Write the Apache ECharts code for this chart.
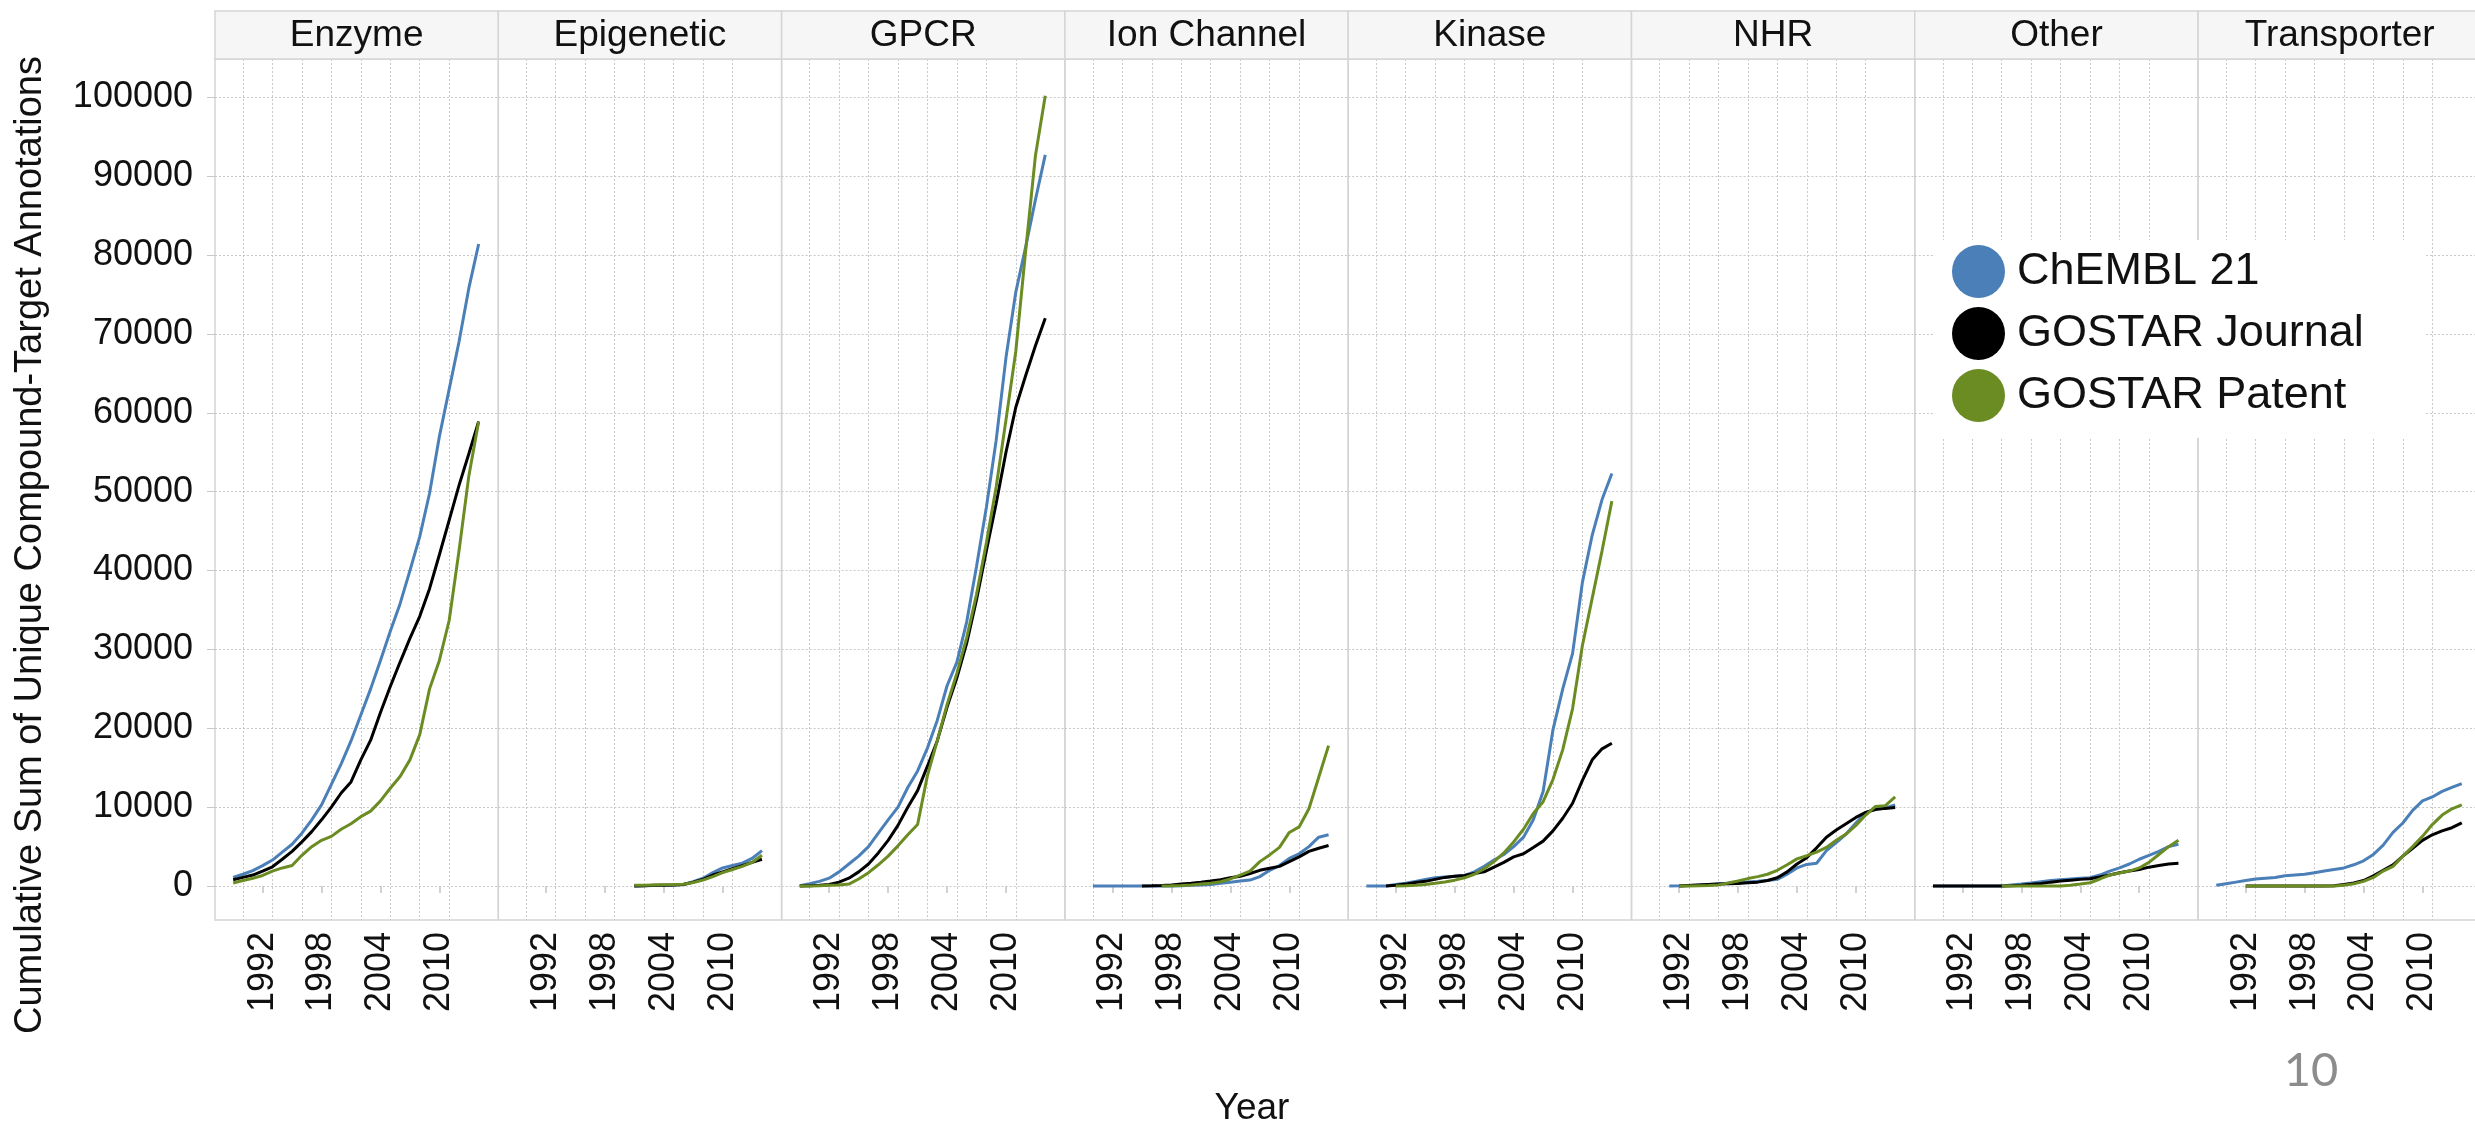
<!DOCTYPE html>
<html>
<head>
<meta charset="utf-8">
<script src="https://cdn.jsdelivr.net/npm/echarts@6.0.0/dist/echarts.min.js"></script>
<style>
  html, body { margin: 0; padding: 0; background: #fff; }
  #chart { width: 2475px; height: 1126px; }
</style>
</head>
<body>
<div id="chart"></div>
<script>
// years on the x axis, one point per year
const years = [1989, 1990, 1991, 1992, 1993, 1994, 1995, 1996, 1997, 1998, 1999, 2000, 2001,
  2002, 2003, 2004, 2005, 2006, 2007, 2008, 2009, 2010, 2011, 2012, 2013, 2014];

const panels = ['Enzyme', 'Epigenetic', 'GPCR', 'Ion Channel', 'Kinase', 'NHR', 'Other', 'Transporter'];
const sources = ['ChEMBL 21', 'GOSTAR Journal', 'GOSTAR Patent'];

const yTicks = [0, 10000, 20000, 30000, 40000, 50000, 60000, 70000, 80000, 90000, 100000];
const xTicks = [1992, 1998, 2004, 2010];
const xGridYears = [1990, 1993, 1996, 1999, 2002, 2005, 2008, 2011];

// values, 1989..2014 (null = no data yet)
const enzymeChembl = [1100, 1500, 1950, 2600, 3300, 4300, 5300, 6700, 8400, 10300, 12900, 15500, 18400, 21700, 25000, 28600, 32300, 35800, 40000, 44300, 49800, 57000, 63000, 69000, 75800, 81400];
const enzymeJournal = [800, 1100, 1400, 1900, 2450, 3400, 4400, 5600, 6900, 8400, 10000, 11800, 13200, 16000, 18500, 22000, 25300, 28400, 31400, 34200, 37700, 42000, 46400, 50800, 54800, 58900];
const enzymePatent = [400, 700, 1000, 1350, 1900, 2300, 2600, 3900, 5000, 5800, 6300, 7200, 7900, 8800, 9500, 10800, 12400, 13900, 16000, 19200, 25000, 28600, 33700, 42500, 52000, 58900];

const epigeneticChembl = [null, null, null, null, null, null, null, null, null, null, null, null, 0, 30, 80, 120, 150, 200, 550, 1000, 1700, 2300, 2600, 2900, 3500, 4500];
const epigeneticJournal = [null, null, null, null, null, null, null, null, null, null, null, null, 0, 50, 100, 120, 150, 200, 500, 850, 1400, 1800, 2200, 2600, 3000, 3400];
const epigeneticPatent = [null, null, null, null, null, null, null, null, null, null, null, null, 100, 120, 150, 170, 190, 220, 450, 750, 1200, 1700, 2100, 2500, 3000, 3900];

const gpcrChembl = [50, 300, 600, 1000, 1800, 2800, 3800, 5000, 6700, 8400, 10000, 12500, 14600, 17500, 21000, 25400, 28400, 33500, 40500, 48000, 56500, 67000, 75300, 81000, 87000, 92700];
const gpcrJournal = [0, 50, 100, 200, 500, 1000, 1800, 2800, 4200, 5800, 7700, 10000, 12100, 15200, 18400, 22700, 26400, 30800, 36300, 42500, 48500, 55000, 60700, 64700, 68500, 72000];
const gpcrPatent = [0, 0, 50, 100, 150, 250, 900, 1700, 2700, 3800, 5100, 6500, 7800, 14000, 18400, 23000, 27000, 31500, 37000, 43500, 50600, 59100, 67800, 80500, 92600, 100200];

const ionChembl = [null, 0, 0, 0, 0, 0, 0, 0, 0, 20, 50, 100, 150, 200, 350, 500, 630, 760, 1200, 2000, 2600, 3500, 4100, 5000, 6200, 6500];
const ionJournal = [null, null, null, null, null, null, 0, 30, 80, 150, 250, 350, 480, 630, 800, 1050, 1250, 1600, 2000, 2250, 2500, 3100, 3700, 4400, 4800, 5150];
const ionPatent = [null, null, null, null, null, null, null, null, 0, 30, 80, 150, 250, 350, 550, 900, 1400, 1900, 3100, 3950, 4900, 6800, 7500, 9800, 13800, 17800];

const kinaseChembl = [0, 0, 0, 200, 350, 600, 850, 1050, 1150, 1250, 1350, 1800, 2500, 3300, 4000, 5000, 6200, 8400, 12000, 19800, 25000, 29500, 38500, 44500, 49000, 52300];
const kinaseJournal = [null, null, 0, 100, 250, 450, 600, 850, 1100, 1250, 1350, 1600, 1800, 2400, 3000, 3700, 4100, 4900, 5700, 7000, 8600, 10500, 13400, 16000, 17400, 18100];
const kinasePatent = [null, null, null, 0, 50, 120, 200, 350, 520, 750, 1050, 1500, 2200, 3100, 4200, 5600, 7200, 9200, 10700, 13500, 17300, 22500, 30500, 36500, 42500, 48800];

const nhrChembl = [null, null, 0, 30, 80, 150, 200, 280, 350, 420, 520, 600, 700, 850, 1500, 2300, 2750, 2900, 4500, 5500, 6600, 8000, 9300, 9800, 9900, 10300];
const nhrJournal = [null, null, null, 0, 80, 150, 210, 260, 300, 340, 420, 500, 700, 1050, 1800, 2800, 3600, 4850, 6200, 7100, 7900, 8700, 9350, 9700, 9850, 9950];
const nhrPatent = [null, null, null, 0, 20, 50, 70, 150, 380, 650, 950, 1200, 1500, 2000, 2700, 3450, 3850, 4300, 4900, 5800, 6600, 7700, 9000, 10100, 10200, 11300];

const otherChembl = [0, 0, 0, 0, 0, 0, 0, 0, 150, 250, 400, 550, 700, 800, 900, 1000, 1050, 1400, 1900, 2300, 2800, 3400, 3900, 4400, 5000, 5300];
const otherJournal = [0, 0, 0, 0, 0, 0, 0, 0, 50, 120, 220, 340, 500, 630, 750, 850, 930, 1150, 1400, 1700, 1900, 2100, 2400, 2600, 2800, 2900];
const otherPatent = [null, null, null, null, null, null, null, 0, 0, 0, 0, 0, 0, 20, 100, 250, 420, 900, 1400, 1650, 1900, 2300, 3000, 4000, 5000, 5800];

const transporterChembl = [100, 300, 500, 700, 900, 1000, 1100, 1300, 1400, 1500, 1700, 1900, 2100, 2300, 2700, 3200, 4000, 5200, 6800, 8000, 9600, 10800, 11300, 12000, 12500, 13000];
const transporterJournal = [null, null, null, 0, 0, 0, 0, 0, 0, 0, 0, 0, 50, 200, 400, 700, 1300, 2000, 2700, 3800, 4800, 5800, 6500, 7000, 7400, 8000];
const transporterPatent = [null, null, null, 0, 0, 0, 0, 0, 0, 0, 0, 0, 20, 100, 300, 600, 1100, 1900, 2500, 3800, 5000, 6300, 7800, 9000, 9800, 10300];

const panelSeries = [
  [enzymeChembl, enzymeJournal, enzymePatent],
  [epigeneticChembl, epigeneticJournal, epigeneticPatent],
  [gpcrChembl, gpcrJournal, gpcrPatent],
  [ionChembl, ionJournal, ionPatent],
  [kinaseChembl, kinaseJournal, kinasePatent],
  [nhrChembl, nhrJournal, nhrPatent],
  [otherChembl, otherJournal, otherPatent],
  [transporterChembl, transporterJournal, transporterPatent]
];

// layout / style
const FONT = '"Liberation Sans", Arial, sans-serif';
const colors = ['#4a7fb7', '#000000', '#6b8c22'];
const LEFT = 215, PW = 283.3, TOP = 59, BOTTOM = 920, HEAD_TOP = 11;
const X_MIN = 1987.15, X_MAX = 2016.0;
const Y_MIN = -4300, Y_MAX = 104850;
const frameColor = '#d5d5d5';
const gridColor = '#c8c8c8';

const grid = [], xAxis = [], yAxis = [], series = [], graphic = [];

panels.forEach((name, i) => {
  const left = LEFT + i * PW;
  grid.push({
    left: left, top: TOP, width: PW, height: BOTTOM - TOP,
    show: true, borderColor: frameColor, borderWidth: 1.5,
    backgroundColor: 'transparent', containLabel: false, outerBoundsMode: 'none'
  });
  // ticks + labels
  xAxis.push({
    type: 'value', gridIndex: i, min: X_MIN, max: X_MAX,
    axisLine: { show: false },
    axisTick: { show: true, customValues: xTicks, length: 7, lineStyle: { color: '#c4c4c4', width: 1.5 } },
    axisLabel: {
      customValues: xTicks, rotate: 90, margin: 12, fontSize: 36, color: '#111',
      fontFamily: FONT, formatter: v => String(v)
    },
    splitLine: { show: false }
  });
  // dotted vertical grid every 3 years
  xAxis.push({
    type: 'value', gridIndex: i, min: X_MIN, max: X_MAX,
    axisLine: { show: false },
    axisTick: { show: false, customValues: xGridYears },
    axisLabel: { show: false },
    splitLine: { show: true, lineStyle: { color: gridColor, width: 1, type: [2, 2] } }
  });
  yAxis.push({
    type: 'value', gridIndex: i, min: Y_MIN, max: Y_MAX,
    axisLine: { show: false },
    axisTick: { show: i === 0, customValues: yTicks, length: 8, lineStyle: { color: gridColor } },
    axisLabel: {
      show: i === 0, customValues: yTicks, margin: 22, fontSize: 36, color: '#111',
      fontFamily: FONT, formatter: v => String(v)
    },
    splitLine: { show: true, lineStyle: { color: gridColor, width: 1, type: [2, 2] } }
  });

  panelSeries[i].forEach((vals, s) => {
    const pts = [];
    vals.forEach((v, k) => { if (v !== null) pts.push([years[k], v]); });
    series.push({
      name: sources[s], type: 'line', xAxisIndex: i * 2, yAxisIndex: i,
      data: pts, showSymbol: false, symbol: 'none',
      lineStyle: { color: colors[s], width: 3 },
      itemStyle: { color: colors[s] },
      z: 3 + s
    });
  });

  // facet header
  graphic.push({
    type: 'rect', silent: true, z: 1,
    shape: { x: left, y: HEAD_TOP, width: PW, height: TOP - HEAD_TOP },
    style: { fill: '#f6f6f6', stroke: frameColor, lineWidth: 1.5 }
  });
  graphic.push({
    type: 'text', silent: true, z: 2,
    x: left + PW / 2, y: (HEAD_TOP + TOP) / 2 + 1,
    style: { text: name, fontSize: 37, fontFamily: FONT, fill: '#111', align: 'center', verticalAlign: 'middle' }
  });
});

graphic.push({
  type: 'text', silent: true, x: 31, y: 545, rotation: Math.PI / 2,
  style: {
    text: 'Cumulative Sum of Unique Compound-Target Annotations', fontSize: 38,
    fontFamily: FONT, fill: '#111', align: 'center', verticalAlign: 'middle'
  }
});
graphic.push({
  type: 'text', silent: true, x: 1252, y: 1109,
  style: { text: 'Year', fontSize: 37, fontFamily: FONT, fill: '#111', align: 'center', verticalAlign: 'middle' }
});
graphic.push({
  type: 'text', silent: true, x: 2311, y: 1071,
  style: { text: '10', fontSize: 47, fontFamily: 'Lato, "Open Sans", sans-serif', fill: '#8c8c8c', align: 'center', verticalAlign: 'middle' }
});

const chart = echarts.init(document.getElementById('chart'), null, { renderer: 'canvas' });
chart.setOption({
  animation: false,
  backgroundColor: '#fff',
  grid: grid,
  xAxis: xAxis,
  yAxis: yAxis,
  series: series,
  graphic: graphic,
  legend: {
    data: sources.map(s => ({ name: s, icon: 'circle' })),
    orient: 'vertical', left: 1935, top: 240,
    itemWidth: 53, itemHeight: 53, itemGap: 9,
    padding: [5, 62, 16, 17],
    backgroundColor: '#ffffff',
    selectedMode: false,
    textStyle: { fontSize: 45, color: '#111', fontFamily: FONT, padding: [0, 0, 0, 7] }
  }
});
</script>
</body>
</html>
